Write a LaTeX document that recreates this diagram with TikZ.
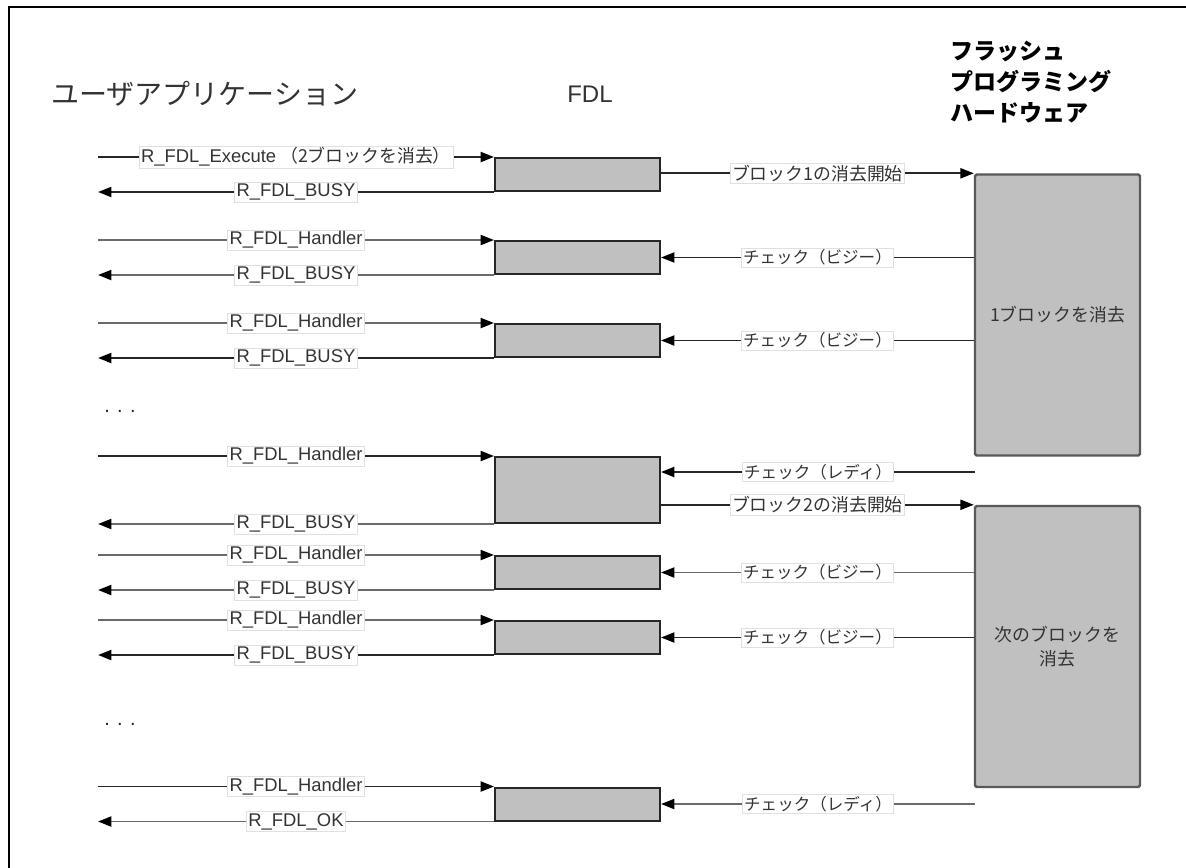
\documentclass[tikz,border=0pt]{standalone}
\usepackage{fontspec}
\setmainfont{Liberation Sans}
\newfontfamily\jp{Noto Sans CJK JP}
\usetikzlibrary{arrows.meta,calc}
\definecolor{boxfill}{HTML}{C0C0C0}
\definecolor{dk}{HTML}{262626}
\definecolor{gy}{HTML}{6A6A6A}
\definecolor{txt}{HTML}{333333}
\definecolor{lbd}{HTML}{E0E0E0}
\newcommand\jtext[1]{{\jp\fontsize{13.4pt}{16pt}\selectfont #1}}
\newcommand\jchk[1]{{\jp\fontsize{12.4pt}{16pt}\selectfont #1}}
\begin{document}
\begin{tikzpicture}[x=0.75pt,y=-0.75pt,
  fdlbox/.style={draw=dk, fill=boxfill, line width=1.5pt, minimum width=123.75pt, minimum height=24.75pt, inner sep=0},
  hwbox/.style={draw=black!65, fill=boxfill, line width=1.8pt, rounded corners=1.2pt, minimum width=123.75pt, minimum height=210.75pt, inner sep=0, text=txt, align=center, font=\jp\fontsize{13.4pt}{18pt}\selectfont},
  msg/.style={draw=dk, line width=1.45pt, -{Triangle[length=10pt,width=7.5pt,color=black]}},
  gmsg/.style={msg, draw=gy},
  lbl/.style={fill=white, draw=lbd, line width=0.5pt, inner xsep=1.5pt, inner ysep=1.2pt, text=txt, font=\fontsize{13.8pt}{16pt}\selectfont, midway},
  ttl/.style={anchor=west, inner sep=0, text=txt},
  dots/.style={inner sep=0, text=black!85, font=\fontsize{15pt}{16pt}\selectfont}
]
\useasboundingbox (0,0) rectangle (1186,868);
\draw[line width=1.5pt] (9,868) -- (9,7) -- (1186,7);

% titles
\node[ttl, font=\jp\fontsize{21pt}{24pt}\selectfont] (tua) at (51,94) {ユーザアプリケーション};
\node[ttl, font=\fontsize{18pt}{20pt}\selectfont] (tfdl) at (567,94) {FDL};
\node[anchor=west, inner sep=0, align=left, font=\jp\bfseries\fontsize{17.25pt}{23.25pt}\selectfont] (thw) at (950,82) {フラッシュ\\プログラミング\\ハードウェア};

% FDL boxes
\node[fdlbox] (f1) at (577.5,174.5) {};
\node[fdlbox] (f2) at (577.5,257.5) {};
\node[fdlbox] (f3) at (577.5,340.5) {};
\node[fdlbox, minimum height=49.5pt] (f4) at (577.5,490) {};
\node[fdlbox] (f5) at (577.5,572.5) {};
\node[fdlbox] (f6) at (577.5,637.5) {};
\node[fdlbox] (f7) at (577.5,804) {};

% hardware boxes
\node[hwbox] (hw1) at (1057.5,315) {1ブロックを消去};
\node[hwbox] (hw2) at (1057.5,646.5) {次のブロックを\\消去};

\coordinate (L) at (98,0);
\coordinate (R4) at (975,472);
\coordinate (R7) at (975,804);

% row 1
\draw[msg] (L |- f1.north west) -- node[lbl]{R\_FDL\_Execute\hspace{3pt}\jtext{（2ブロックを消去）}} (f1.north west);
\draw[msg] (f1.south west) -- node[lbl]{R\_FDL\_BUSY} (L |- f1.south west);
\draw[msg] (f1.east |- hw1.north west) -- node[lbl]{\jtext{ブロック1の消去開始}} (hw1.north west);
% row 2
\draw[gmsg] (L |- f2.north west) -- node[lbl]{R\_FDL\_Handler} (f2.north west);
\draw[gmsg] (f2.south west) -- node[lbl]{R\_FDL\_BUSY} (L |- f2.south west);
\draw[msg] (hw1.west |- f2.east) -- node[lbl]{\jchk{チェック（ビジー）}} (f2.east);
% row 3
\draw[gmsg] (L |- f3.north west) -- node[lbl]{R\_FDL\_Handler} (f3.north west);
\draw[msg] (f3.south west) -- node[lbl]{R\_FDL\_BUSY} (L |- f3.south west);
\draw[msg] (hw1.west |- f3.east) -- node[lbl]{\jchk{チェック（ビジー）}} (f3.east);

\node[dots] (d1) at (120,411) {. . .};

% row 4
\draw[msg] (L |- f4.north west) -- node[lbl]{R\_FDL\_Handler} (f4.north west);
\draw[gmsg] (f4.south west) -- node[lbl]{R\_FDL\_BUSY} (L |- f4.south west);
\draw[msg] (R4) -- node[lbl]{\jchk{チェック（レディ）}} (f4.east |- R4);
\draw[msg] (f4.east |- hw2.north west) -- node[lbl]{\jtext{ブロック2の消去開始}} (hw2.north west);
% row 5
\draw[gmsg] (L |- f5.north west) -- node[lbl]{R\_FDL\_Handler} (f5.north west);
\draw[gmsg] (f5.south west) -- node[lbl]{R\_FDL\_BUSY} (L |- f5.south west);
\draw[gmsg] (hw2.west |- f5.east) -- node[lbl]{\jchk{チェック（ビジー）}} (f5.east);
% row 6
\draw[gmsg] (L |- f6.north west) -- node[lbl]{R\_FDL\_Handler} (f6.north west);
\draw[msg] (f6.south west) -- node[lbl]{R\_FDL\_BUSY} (L |- f6.south west);
\draw[msg] (hw2.west |- f6.east) -- node[lbl]{\jchk{チェック（ビジー）}} (f6.east);

\node[dots] (d2) at (120,724) {. . .};

% row 7
\draw[msg] (L |- f7.north west) -- node[lbl]{R\_FDL\_Handler} (f7.north west);
\draw[gmsg] (f7.south west) -- node[lbl]{R\_FDL\_OK} (L |- f7.south west);
\draw[gmsg] (R7) -- node[lbl]{\jchk{チェック（レディ）}} (f7.east |- R7);
\end{tikzpicture}
\end{document}
